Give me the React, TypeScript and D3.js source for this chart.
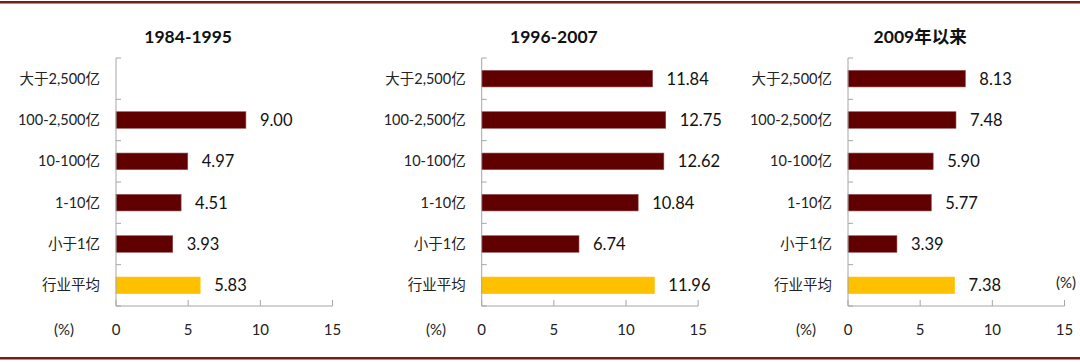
import React from "react";
import * as d3 from "d3";

const categories = ["大于2,500亿", "100-2,500亿", "10-100亿", "1-10亿", "小于1亿", "行业平均"];
const titles = ["1984-1995", "1996-2007", "2009年以来"];
const values1984 = [null, 9.0, 4.97, 4.51, 3.93, 5.83];
const values1996 = [11.84, 12.75, 12.62, 10.84, 6.74, 11.96];
const values2009 = [8.13, 7.48, 5.9, 5.77, 3.39, 7.38];
const xTicks = [0, 5, 10, 15];

const W = 1080;
const H = 362;
const font = "Lato, 'Noto Sans CJK SC', sans-serif";

const panels = [
  { title: titles[0], values: values1984, x0: 116, pct: 74 },
  { title: titles[1], values: values1996, x0: 481.7, pct: 446 },
  { title: titles[2], values: values2009, x0: 848, pct: 816 },
];

const Panel = ({ title, values, x0, pct, last }) => {
  const x = d3.scaleLinear().domain([0, 15]).range([x0, x0 + 216.5]);
  const y = d3.scaleBand().domain(categories).range([58, 306]).paddingInner(0.6).paddingOuter(0.3);
  const step = y.step();
  const bounds = d3.range(categories.length + 1).map((i) => 58 + i * step);
  const axisColor = "#a6a6a6";

  return (
    <g>
      <text x={x(5)} y={43} textAnchor="middle" fontSize={17.5} fontWeight="bold" fill="#111">
        {title}
      </text>
      {categories.map((c, i) => {
        const v = values[i];
        const cy = y(c) + y.bandwidth() / 2;
        return (
          <g key={c}>
            <text x={x0 - 16} y={cy} dy="0.35em" textAnchor="end" fontSize={14.5} fill="#222">
              {c}
            </text>
            {v != null && (
              <>
                <rect
                  x={x(0)}
                  y={y(c)}
                  width={x(v) - x(0)}
                  height={y.bandwidth()}
                  fill={c === "行业平均" ? "#FFC000" : "#600000"}
                  stroke={c === "行业平均" ? "#FFC000" : "#8a4a4a"}
                  strokeWidth={0.6}
                />
                <text x={x(v) + 14} y={cy} dy="0.36em" fontSize={16.5} fill="#111">
                  {v.toFixed(2)}
                </text>
              </>
            )}
          </g>
        );
      })}
      {/* value axis */}
      <line x1={x(0)} x2={x(15)} y1={306} y2={306} stroke={axisColor} />
      {xTicks.map((t) => (
        <g key={t}>
          <line x1={x(t)} x2={x(t)} y1={306} y2={300} stroke={axisColor} />
          <text x={x(t)} y={335} textAnchor="middle" fontSize={15} fill="#222">
            {t}
          </text>
        </g>
      ))}
      {/* category axis */}
      <line x1={x0} x2={x0} y1={58} y2={306} stroke={axisColor} />
      {bounds.map((b, i) => (
        <line key={i} x1={x0} x2={x0 + 5} y1={b} y2={b} stroke={axisColor} />
      ))}
      <text x={pct} y={335} textAnchor="end" fontSize={15} fill="#222">
        (%)
      </text>
      {last && (
        <text x={1076} y={288} textAnchor="end" fontSize={15} fill="#222">
          (%)
        </text>
      )}
    </g>
  );
};

export default function App() {
  return (
    <svg width={W} height={H} style={{ position: "absolute", left: 0, top: 0, background: "#fff" }} fontFamily={font}>
      <rect width={W} height={H} fill="#fff" />
      <line x1={0} x2={W} y1={2.2} y2={2.2} stroke="#7a1a1a" strokeWidth={2.4} />
      <line x1={0} x2={W} y1={358.3} y2={358.3} stroke="#7a1a1a" strokeWidth={2.4} />
      {panels.map((p, i) => (
        <Panel key={p.title} {...p} last={i === panels.length - 1} />
      ))}
    </svg>
  );
}
